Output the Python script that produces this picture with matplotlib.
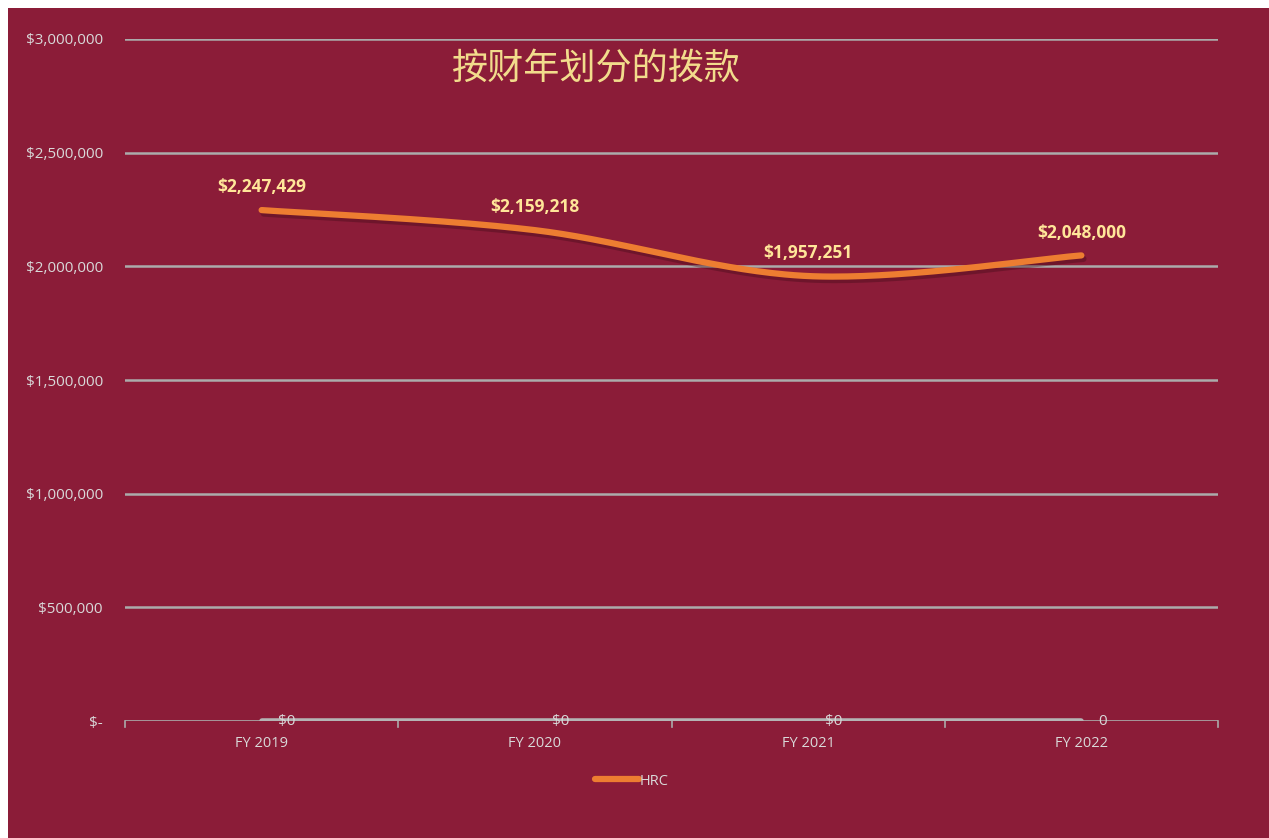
import numpy as np
import matplotlib.pyplot as plt
import matplotlib.patheffects as pe
from matplotlib.patches import Rectangle
from matplotlib.lines import Line2D

# -----------------------------
# Data
# -----------------------------
years = ["FY2019", "FY2020", "FY2021", "FY2022"]
tick_labels = ["FY 2019", "FY 2020", "FY 2021", "FY 2022"]
hrc = [2247429, 2159218, 1957251, 2048000]
other = [0, 0, 0, 0]
other_labels = ["$0", "$0", "$0", "0"]
y_ticks = [0, 500000, 1000000, 1500000, 2000000, 2500000, 3000000]

title = "按财年划分的拨款"

# -----------------------------
# Colors
# -----------------------------
bg = "#8B1C38"
orange = "#ED7D31"
grid_gray = "#ABABAB"
text_gray = "#D9D9D9"
label_yellow = "#FFE699"
title_gold = "#F2DC8C"

plt.rcParams["font.family"] = ["Open Sans", "DejaVu Sans"]


def smooth(xs, ys, n=60):
    # Catmull-Rom style bezier, like Excel's smoothed line
    xs = np.asarray(xs, float)
    ys = np.asarray(ys, float)
    px = np.concatenate([[xs[0]], xs, [xs[-1]]])
    py = np.concatenate([[ys[0]], ys, [ys[-1]]])
    out_x, out_y = [], []
    for i in range(1, len(px) - 2):
        p0 = np.array([px[i - 1], py[i - 1]])
        p1 = np.array([px[i], py[i]])
        p2 = np.array([px[i + 1], py[i + 1]])
        p3 = np.array([px[i + 2], py[i + 2]])
        c1 = p1 + (p2 - p0) / 6
        c2 = p2 - (p3 - p1) / 6
        t = np.linspace(0, 1, n)[:, None]
        pts = ((1 - t) ** 3) * p1 + 3 * ((1 - t) ** 2) * t * c1 + 3 * (1 - t) * t ** 2 * c2 + t ** 3 * p2
        out_x.extend(pts[:, 0])
        out_y.extend(pts[:, 1])
    return np.array(out_x), np.array(out_y)


fig = plt.figure(figsize=(12.69, 8.38), dpi=100)
fig.patch.set_facecolor("white")
fig.patches.append(Rectangle((8 / 1269, 0), 1, 1 - 8 / 838, transform=fig.transFigure,
                             facecolor=bg, edgecolor="none", zorder=-10))

ax = fig.add_axes([125 / 1269, 1 - 721 / 838, (1218 - 125) / 1269, (721 - 39) / 838])
ax.set_facecolor("none")

x = np.arange(len(years))

# gridlines
for v in y_ticks[1:]:
    ax.axhline(v, color=grid_gray, lw=1.8, zorder=1)

# bottom axis with category boundary ticks
ax.axhline(0, color=grid_gray, lw=1.2, zorder=1)
for b in np.arange(-0.5, len(years), 1.0):
    ax.plot([b, b], [0, -25000], color=grid_gray, lw=1.2, clip_on=False, zorder=1)

# zero series
ax.plot(x, other, color="#B4B4B4", lw=4, solid_capstyle="round", zorder=2)
for xi, yi, lab in zip(x, other, other_labels):
    ax.annotate(lab, (xi, yi), xytext=(12, 0), textcoords="offset points",
                ha="left", va="center", color=text_gray, fontsize=11)

# HRC smoothed line
sx, sy = smooth(x, hrc)
ax.plot(sx, sy, color=orange, lw=4.5, solid_capstyle="round", zorder=3,
        path_effects=[pe.SimpleLineShadow(offset=(1.5, -2.5), shadow_color="#3a0a15", alpha=0.35),
                      pe.Normal()])

for xi, yi in zip(x, hrc):
    ax.annotate(f"${yi:,.0f}", (xi, yi), xytext=(0, 10), textcoords="offset points",
                ha="center", va="bottom", color=label_yellow, fontsize=12.5, fontweight="bold")

ax.set_xlim(-0.5, len(years) - 0.5)
ax.set_ylim(0, 3000000)
ax.set_xticks(x)
ax.set_xticklabels(tick_labels, color=text_gray, fontsize=10.5)
ax.tick_params(axis="x", length=0, pad=11)
ax.set_yticks(y_ticks)
ax.set_yticklabels(["$-" if v == 0 else f"${v:,.0f}" for v in y_ticks], color=text_gray, fontsize=11)
ax.tick_params(axis="y", length=0, pad=16)
for s in ax.spines.values():
    s.set_visible(False)

fig.text(596 / 1269, 1 - 70 / 838, title, ha="center", va="center", color=title_gold,
         fontsize=26, family=["Noto Sans CJK SC", "DejaVu Sans"], fontweight="light")

handle = Line2D([], [], color=orange, lw=4.5, solid_capstyle="round")
leg = fig.legend(handles=[handle], labels=["HRC"],
                 loc="center", bbox_to_anchor=(632 / 1269, 1 - 781 / 838), frameon=False,
                 handlelength=3, handletextpad=0.1, fontsize=10.5)
for t in leg.get_texts():
    t.set_color(text_gray)

fig.savefig("out.png", dpi=100, facecolor=fig.get_facecolor())
